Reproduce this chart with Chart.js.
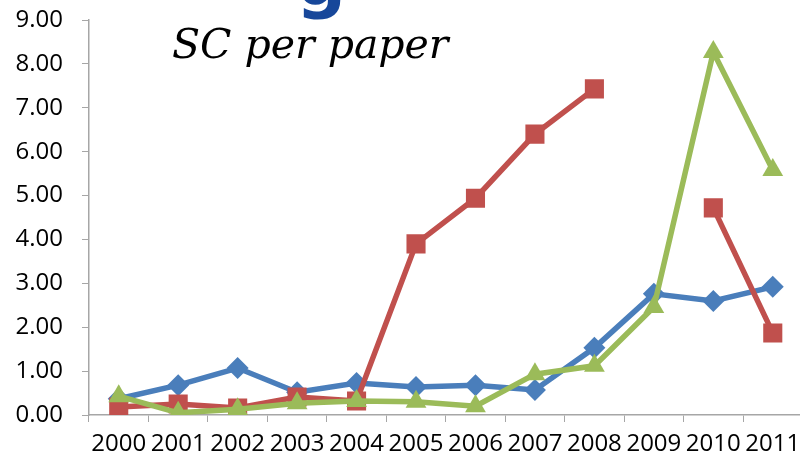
<!DOCTYPE html>
<html>
<head>
<meta charset="utf-8">
<script src="https://cdn.jsdelivr.net/npm/chart.js@4"></script>
<style>
  html, body { margin: 0; padding: 0; background: #fff; overflow: hidden; }
  #wrap { position: relative; width: 800px; height: 458px; overflow: hidden; }
  #title { position: absolute; left: 172px; top: 20px; font: italic 41px "DejaVu Serif"; color: #000; white-space: nowrap; }
  #cut { position: absolute; left: 296px; top: -60px; font: bold 70px "DejaVu Sans"; color: #17479a; }
</style>
</head>
<body>
<div id="wrap">
  <canvas id="chart" width="816" height="458"></canvas>
  <div id="cut">g</div>
  <div id="title">SC per paper</div>
</div>
<script>
// values
const years = ['2000', '2001', '2002', '2003', '2004', '2005', '2006', '2007', '2008', '2009', '2010', '2011'];
const blueValues = [0.37, 0.68, 1.07, 0.52, 0.73, 0.64, 0.68, 0.57, 1.53, 2.76, 2.60, 2.92];
const redValues = [0.18, 0.25, 0.16, 0.41, 0.32, 3.90, 4.94, 6.40, 7.43, null, 4.72, 1.87];
const greenValues = [0.43, 0.05, 0.13, 0.27, 0.32, 0.30, 0.20, 0.93, 1.12, 2.46, 8.27, 5.58];
const yTicks = [0, 1, 2, 3, 4, 5, 6, 7, 8, 9];

const axisGray = '#a6a6a6';
const tickFont = { family: 'Open Sans', size: 24, lineHeight: 1 };

function series(data, color, shape, radius, order) {
  return {
    data: data,
    borderColor: color,
    backgroundColor: color,
    borderWidth: 5.5,
    pointStyle: shape,
    pointRadius: radius,
    pointBorderWidth: 0,
    spanGaps: false,
    tension: 0,
    order: order
  };
}

new Chart(document.getElementById('chart'), {
  type: 'line',
  data: {
    labels: years,
    datasets: [
      series(blueValues, '#4a7ebb', 'rectRot', 11, 3),
      series(redValues, '#c0504d', 'rect', 13.5, 2),
      series(greenValues, '#9bbb59', 'triangle', 12, 1)
    ]
  },
  options: {
    responsive: false,
    animation: false,
    layout: { padding: { top: 20, right: 0, left: 0, bottom: 0 } },
    plugins: { legend: { display: false }, tooltip: { enabled: false } },
    scales: {
      x: {
        offset: true,
        grid: { offset: true, drawOnChartArea: false, color: axisGray, tickLength: 7 },
        border: { color: axisGray, width: 1.5 },
        ticks: { color: '#000', font: tickFont, maxRotation: 0, autoSkip: false, padding: 10 },
        afterFit: s => { s.height = 43; s.paddingTop = 0; s.paddingBottom = 0; }
      },
      y: {
        min: 0,
        max: 9,
        afterBuildTicks: s => { s.ticks = yTicks.map(v => ({ value: v })); },
        grid: { drawOnChartArea: false, color: axisGray, tickLength: 7 },
        border: { color: axisGray, width: 1.5 },
        ticks: { color: '#000', font: tickFont, padding: 19, callback: v => v.toFixed(2) },
        afterFit: s => { s.width = 89; s.paddingTop = 0; s.paddingBottom = 0; }
      }
    }
  }
});
</script>
</body>
</html>
